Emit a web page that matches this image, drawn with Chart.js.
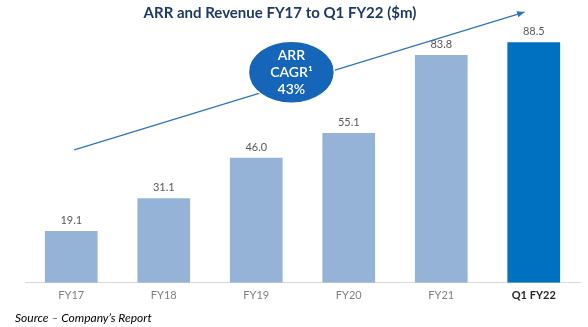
<!DOCTYPE html>
<html>
<head>
<meta charset="utf-8">
<script src="https://cdn.jsdelivr.net/npm/chart.js@4/dist/chart.umd.min.js"></script>
<style>
  html, body { margin: 0; padding: 0; background: #fff; }
  #wrap { width: 588px; height: 327px; position: relative; }
</style>
</head>
<body>
<div id="wrap"><canvas id="arrChart"></canvas></div>
<script>
// values
var categories = ['FY17', 'FY18', 'FY19', 'FY20', 'FY21', 'Q1 FY22'];
var arrValues = [19.1, 31.1, 46.0, 55.1, 83.8, 88.5];
var barColors = ['#95b3d7', '#95b3d7', '#95b3d7', '#95b3d7', '#95b3d7', '#0070c0'];
var cagrLines = ['ARR', 'CAGR\u00b9', '43%'];
var titleText = 'ARR and Revenue FY17 to Q1 FY22 ($m)';
var sourceText = 'Source \u2013 Company\u2019s Report';

var FONT = 'Lato, "Open Sans", sans-serif';

// title, value labels, CAGR bubble, trend arrow and source note
var extras = {
    id: 'extras',
    afterDatasetsDraw: function (chart) {
        var ctx = chart.ctx;
        var x = chart.scales.x, y = chart.scales.y;
        ctx.save();

        // title
        ctx.fillStyle = '#1f3864';
        ctx.font = 'bold 15px ' + FONT;
        ctx.textAlign = 'center';
        ctx.textBaseline = 'middle';
        ctx.fillText(titleText, 280, 13);

        // value labels above bars
        ctx.fillStyle = '#595959';
        ctx.font = '11px ' + FONT;
        ctx.textBaseline = 'bottom';
        chart.getDatasetMeta(0).data.forEach(function (bar, i) {
            ctx.fillText(arrValues[i].toFixed(1), bar.x, bar.y - 5);
        });

        // trend arrow
        var x0 = x.getPixelForValue(0) + 3, y0 = y.getPixelForValue(48.9);
        var x1 = x.getPixelForValue(4.9), y1 = y.getPixelForValue(99.6);
        ctx.strokeStyle = '#2e75b6';
        ctx.lineWidth = 1.2;
        ctx.beginPath();
        ctx.moveTo(x0, y0);
        ctx.lineTo(x1, y1);
        ctx.stroke();
        var ang = Math.atan2(y1 - y0, x1 - x0);
        ctx.fillStyle = '#2e75b6';
        ctx.beginPath();
        ctx.moveTo(x1, y1);
        ctx.lineTo(x1 - 8 * Math.cos(ang - 0.4), y1 - 8 * Math.sin(ang - 0.4));
        ctx.lineTo(x1 - 8 * Math.cos(ang + 0.4), y1 - 8 * Math.sin(ang + 0.4));
        ctx.closePath();
        ctx.fill();

        // CAGR bubble
        var cx = x.getPixelForValue(2.38), cy = y.getPixelForValue(77.5);
        ctx.fillStyle = '#1565b8';
        ctx.strokeStyle = '#ffffff';
        ctx.lineWidth = 1.5;
        ctx.beginPath();
        ctx.ellipse(cx, cy, 43, 31, 0, 0, Math.PI * 2);
        ctx.fill();
        ctx.stroke();
        ctx.fillStyle = '#ffffff';
        ctx.font = '600 14px ' + FONT;
        ctx.textBaseline = 'middle';
        cagrLines.forEach(function (line, i) {
            ctx.fillText(line, cx, cy - 17 + i * 17);
        });

        // source note
        ctx.fillStyle = '#000000';
        ctx.font = 'italic 12px ' + FONT;
        ctx.textAlign = 'left';
        ctx.fillText(sourceText, 15, 318);

        ctx.restore();
    }
};

var ctx = document.getElementById('arrChart').getContext('2d');
var arrChart = new Chart(ctx, {
    type: 'bar',
    data: {
        labels: categories,
        datasets: [{
            label: 'ARR',
            data: arrValues,
            backgroundColor: barColors,
            categoryPercentage: 1,
            barPercentage: 0.57,
        }],
    },
    options: {
        responsive: true,
        maintainAspectRatio: false,
        animation: false,
        layout: { padding: { left: 25, right: 8, top: 30, bottom: 19 } },
        plugins: {
            legend: { display: false },
            tooltip: { enabled: false },
        },
        scales: {
            x: {
                grid: { display: false, drawTicks: false },
                border: { display: true, color: '#d9d9d9' },
                ticks: {
                    padding: 6,
                    font: function (c) {
                        return { family: FONT, size: 11, weight: c.index === 5 ? 'bold' : 'normal' };
                    },
                    color: function (c) {
                        return c.index === 5 ? '#262626' : '#7f7f7f';
                    },
                },
            },
            y: {
                display: false,
                min: 0,
                max: 93,
            },
        },
    },
    plugins: [extras],
});
</script>
</body>
</html>
